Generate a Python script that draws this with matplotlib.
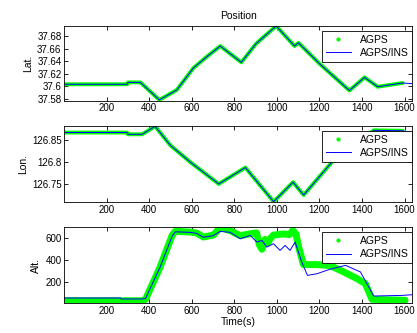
import numpy as np
import matplotlib
matplotlib.use('Agg')
import matplotlib.pyplot as plt

# latitude
t_lat = [1, 297, 300, 359, 448, 530, 608, 671, 734, 833, 903, 997, 1083, 1102, 1200, 1341, 1412, 1474, 1530, 1591]
lat_agps = [37.603, 37.603, 37.606, 37.606, 37.578, 37.594, 37.629, 37.647, 37.664, 37.638, 37.668, 37.696,
            37.664, 37.669, 37.636, 37.593, 37.614, 37.599, 37.602, 37.605]
t_lat_ins = t_lat + [1637]
lat_ins = lat_agps + [37.604]

# longitude
t_lon = [1, 297, 300, 367, 428, 500, 594, 727, 781, 852, 985, 1076, 1126, 1267, 1455, 1591]
lon_agps = [126.866, 126.866, 126.862, 126.862, 126.880, 126.837, 126.799, 126.750, 126.766, 126.787,
            126.710, 126.754, 126.725, 126.804, 126.871, 126.870]
t_lon_ins = t_lon + [1637]
lon_ins = lon_agps + [126.866]

# altitude
t_alt = [1, 370, 383, 450, 508, 523, 593, 624, 655, 702, 734, 781, 828, 875, 905, 918, 930, 945, 958, 970,
         984, 1030, 1060, 1075, 1090, 1101, 1125, 1190, 1252, 1315, 1377, 1416, 1447, 1603]
alt_agps = [29, 29, 42, 330, 627, 664, 658, 648, 612, 630, 700, 670, 625, 642, 650, 540, 500, 590, 560, 600,
            630, 640, 635, 672, 640, 532, 360, 360, 350, 292, 231, 185, 42, 33]
t_alt_ins = [1, 266, 268, 367, 383, 450, 508, 523, 593, 624, 655, 702, 734, 781, 828, 875, 906, 930, 953, 984,
             1015, 1039, 1062, 1086, 1117, 1144, 1188, 1252, 1323, 1393, 1455, 1590, 1637]
alt_ins = [54, 54, 45, 45, 50, 330, 620, 660, 655, 645, 610, 625, 664, 655, 596, 627, 566, 581, 520, 551,
           490, 535, 490, 566, 383, 261, 276, 319, 353, 292, 72, 78, 84]

plt.rcParams['font.family'] = ['Liberation Sans Narrow', 'Liberation Sans', 'DejaVu Sans']
plt.rcParams['font.size'] = 7

fig = plt.figure(figsize=(4.17, 3.33), dpi=100)
left, width = 0.154, 0.835
ax1 = fig.add_axes([left, 0.698, width, 0.224])
ax2 = fig.add_axes([left, 0.393, width, 0.229])
ax3 = fig.add_axes([left, 0.090, width, 0.228])

green = '#00ff00'
panels = [
    (ax1, t_lat, lat_agps, t_lat_ins, lat_ins, 2.8, 'Lat.', (37.577, 37.696), [37.58, 37.60, 37.62, 37.64, 37.66, 37.68]),
    (ax2, t_lon, lon_agps, t_lon_ins, lon_ins, 2.8, 'Lon.', (126.709, 126.881), [126.75, 126.80, 126.85]),
    (ax3, t_alt, alt_agps, t_alt_ins, alt_ins, 5, 'Alt.', (8, 703), [200, 400, 600]),
]

for ax, t, a, ti, b, lw, lab, yl, yt in panels:
    ax.plot(t, a, '-', color=green, lw=lw, solid_capstyle='round', solid_joinstyle='round')
    ax.plot(ti, b, '-', color='#0000ff', lw=0.7)
    # legend proxies: AGPS shown as dots like the original
    ax.plot([], [], '.', color=green, markersize=4, label='AGPS')
    ax.plot([], [], '-', color='#0000ff', lw=0.7, label='AGPS/INS')
    ax.set_xlim(1, 1637)
    ax.set_ylim(*yl)
    ax.set_xticks([200, 400, 600, 800, 1000, 1200, 1400, 1600])
    ax.set_yticks(yt)
    ax.set_yticklabels(['%g' % v for v in yt])
    ax.tick_params(direction='in', top=True, right=True, length=3, width=0.6, labelsize=7, pad=2)
    for s in ax.spines.values():
        s.set_linewidth(0.6)
    ax.set_ylabel(lab, fontsize=7.5, labelpad=3)
    leg = ax.legend(loc='upper right', bbox_to_anchor=(1.0, 0.93), borderaxespad=0, fancybox=False,
                    framealpha=1, edgecolor='black', fontsize=7.5, handlelength=2.4, labelspacing=0.3,
                    borderpad=0.35, handletextpad=0.9)
    leg.get_frame().set_linewidth(0.6)

ax1.set_title('Position', fontsize=7.5, pad=5)
ax3.set_xlabel('Time(s)', fontsize=7.5, labelpad=1)

fig.savefig('out.png', dpi=100)
